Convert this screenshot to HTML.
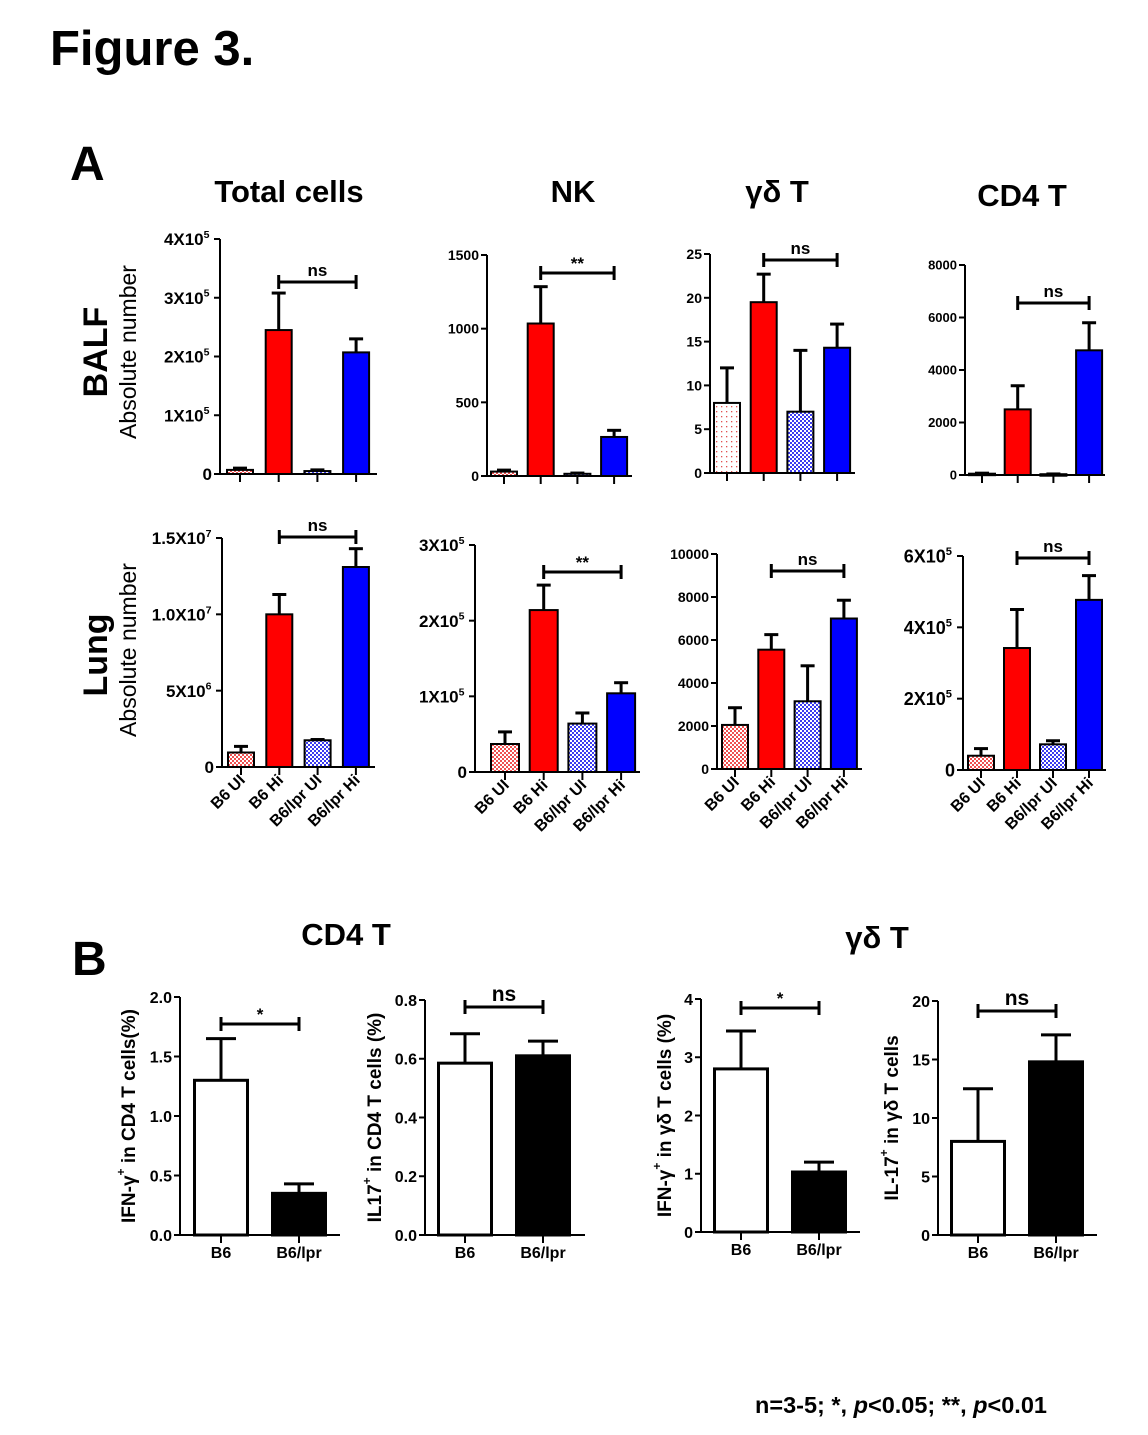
<!DOCTYPE html>
<html><head><meta charset="utf-8"><style>
html,body{margin:0;padding:0;background:#fff;}
svg{display:block;font-family:"Liberation Sans",Arial,sans-serif;}
</style></head><body>
<svg id="fig" width="1148" height="1435" viewBox="0 0 1148 1435" xmlns="http://www.w3.org/2000/svg">
<defs>
<pattern id="pRed" width="4" height="4" patternUnits="userSpaceOnUse"><rect width="4" height="4" fill="#fff"/><rect width="2" height="2" fill="#f05050"/><rect x="2" y="2" width="2" height="2" fill="#f05050"/></pattern>
<pattern id="pBlue" width="4" height="4" patternUnits="userSpaceOnUse"><rect width="4" height="4" fill="#fff"/><rect width="2" height="2" fill="#3b3bf0"/><rect x="2" y="2" width="2" height="2" fill="#3b3bf0"/></pattern>
<pattern id="pDot" width="5" height="5" patternUnits="userSpaceOnUse"><rect width="5" height="5" fill="#fff"/><rect x="1" y="1" width="1.3" height="1.3" fill="#e05050"/></pattern>
</defs>
<g font-weight="bold" fill="#000">
<text x="50" y="65" font-size="49">Figure 3.</text>
<text x="70" y="180" font-size="48">A</text>
<text x="289" y="202" font-size="31" text-anchor="middle">Total cells</text>
<text x="573" y="202" font-size="31" text-anchor="middle">NK</text>
<text x="777" y="202" font-size="31" text-anchor="middle">γδ T</text>
<text x="1022" y="206" font-size="31" text-anchor="middle">CD4 T</text>
<text transform="translate(98,352) rotate(-90)" font-size="34" text-anchor="middle" dominant-baseline="middle">BALF</text>
<text transform="translate(98,655) rotate(-90)" font-size="34" text-anchor="middle" dominant-baseline="middle">Lung</text>
<text x="72" y="975" font-size="48">B</text>
<text x="346" y="945" font-size="31" text-anchor="middle">CD4 T</text>
<text x="877" y="948" font-size="31" text-anchor="middle">γδ T</text>
<text x="755" y="1413" font-size="23.5">n=3-5; *, <tspan font-style="italic">p</tspan>&lt;0.05; **, <tspan font-style="italic">p</tspan>&lt;0.01</text>
</g>
<g font-weight="normal" fill="#000">
<text transform="translate(130,352) rotate(-90)" font-size="23" text-anchor="middle" dominant-baseline="middle">Absolute number</text>
<text transform="translate(130,650) rotate(-90)" font-size="23" text-anchor="middle" dominant-baseline="middle">Absolute number</text>
</g>
<g id="charts"></g>
</svg>
<script>
// ---- data ----
const catsA = ["B6 UI","B6 Hi","B6/lpr UI","B6/lpr Hi"];
const catsB = ["B6","B6/lpr"];
const totalBalfVals = [7000,245000,5000,207000];
const totalBalfErr  = [10000,308000,7000,230000];
const nkBalfVals = [30,1035,15,265];
const nkBalfErr  = [40,1285,20,310];
const gdBalfVals = [8,19.5,7,14.3];
const gdBalfErr  = [12,22.7,14,17];
const cd4BalfVals = [50,2500,30,4750];
const cd4BalfErr  = [70,3400,40,5800];
const totalLungVals = [950000,10000000,1750000,13100000];
const totalLungErr  = [1350000,11300000,1800000,14300000];
const nkLungVals = [37000,214000,64000,104000];
const nkLungErr  = [53000,247000,78000,118000];
const gdLungVals = [2050,5550,3150,7000];
const gdLungErr  = [2850,6250,4800,7850];
const cd4LungVals = [40000,342000,72000,477000];
const cd4LungErr  = [60000,450000,82000,545000];
const ifnCd4Vals = [1.3,0.35];
const ifnCd4Err  = [1.65,0.43];
const il17Cd4Vals = [0.585,0.61];
const il17Cd4Err  = [0.685,0.66];
const ifnGdVals = [2.8,1.03];
const ifnGdErr  = [3.45,1.2];
const il17GdVals = [8.0,14.8];
const il17GdErr  = [12.5,17.1];
const ticksTotalBalf = [0,100000,200000,300000,400000];
const tickLabelsTotalBalf = ["0","1X10^5","2X10^5","3X10^5","4X10^5"];
const ticksNkBalf = [0,500,1000,1500];
const tickLabelsNkBalf = ["0","500","1000","1500"];
const ticksGdBalf = [0,5,10,15,20,25];
const tickLabelsGdBalf = ["0","5","10","15","20","25"];
const ticksCd4Balf = [0,2000,4000,6000,8000];
const tickLabelsCd4Balf = ["0","2000","4000","6000","8000"];
const ticksTotalLung = [0,5000000,10000000,15000000];
const tickLabelsTotalLung = ["0","5X10^6","1.0X10^7","1.5X10^7"];
const ticksNkLung = [0,100000,200000,300000];
const tickLabelsNkLung = ["0","1X10^5","2X10^5","3X10^5"];
const ticksGdLung = [0,2000,4000,6000,8000,10000];
const tickLabelsGdLung = ["0","2000","4000","6000","8000","10000"];
const ticksCd4Lung = [0,200000,400000,600000];
const tickLabelsCd4Lung = ["0","2X10^5","4X10^5","6X10^5"];
const ticksB1 = [0,0.5,1.0,1.5,2.0];
const tickLabelsB1 = ["0.0","0.5","1.0","1.5","2.0"];
const ticksB2 = [0,0.2,0.4,0.6,0.8];
const tickLabelsB2 = ["0.0","0.2","0.4","0.6","0.8"];
const ticksB3 = [0,1,2,3,4];
const tickLabelsB3 = ["0","1","2","3","4"];
const ticksB4 = [0,5,10,15,20];
const tickLabelsB4 = ["0","5","10","15","20"];

const NS="http://www.w3.org/2000/svg";
const root=document.getElementById('charts');
function mk(tag,attrs,parent){const e=document.createElementNS(NS,tag);for(const k in attrs)e.setAttribute(k,attrs[k]);(parent||root).appendChild(e);return e;}
const fillsA=["url(#pRed)","#ff0000","url(#pBlue)","#0000ff"];
const fillsB=["#fff","#000"];

function panel(o){
  const g=mk('g',{});
  
  
  const ymax=o.ticks[o.ticks.length-1];
  const y=v=>o.y0-(v/ymax)*(o.y0-o.ytop);
  const x=i=>o.c0+i*o.step;
  o.vals.forEach((v,i)=>{
    const cx=x(i), top=y(v), et=y(o.err[i]);
    const el=mk('line',{x1:cx,x2:cx,y1:top,y2:et,stroke:'#000','stroke-width':o.ew},g);
    
    
    const cap=mk('line',{x1:cx-o.cap,x2:cx+o.cap,y1:et,y2:et,stroke:'#000','stroke-width':o.ew},g);
    
    
    const r=mk('rect',{x:cx-o.bw/2,y:top,width:o.bw,height:Math.max(o.y0-top,1.5),fill:o.fills[i],stroke:'#000','stroke-width':o.sw},g);
    
    
  });
  const ya=mk('line',{x1:o.ax,x2:o.ax,y1:o.ytop,y2:o.y0+1,stroke:'#000','stroke-width':2},g);
  
  
  const xa=mk('line',{x1:o.ax-1,x2:o.xend,y1:o.y0,y2:o.y0,stroke:'#000','stroke-width':2},g);
  
  
  o.ticks.forEach((t,i)=>{
    const ty=y(t);
    mk('line',{x1:o.ax-6,x2:o.ax,y1:ty,y2:ty,stroke:'#000','stroke-width':2},g);
    const lab=o.labels[i];
    const tx=mk('text',{x:o.ax-8,y:ty+o.fs*0.36,'font-size':o.fs,'font-weight':'bold','text-anchor':'end'},g);
    
    
    if(lab.includes('^')){
      const [a,b]=lab.split('^');
      tx.setAttribute('x',o.ax-2-o.fs*0.5);
      tx.appendChild(document.createTextNode(a));
      const s=mk('tspan',{'font-size':o.fs*0.62,dy:-o.fs*0.42},tx);s.textContent=b;
    } else tx.textContent=lab;
  });
  o.vals.forEach((v,i)=>{mk('line',{x1:x(i),x2:x(i),y1:o.y0,y2:o.y0+8,stroke:'#000','stroke-width':2},g);});
  if(o.xl==='rot'){
    o.cats.forEach((c,i)=>{
      const t=mk('text',{transform:`translate(${x(i)+5},${o.y0+14}) rotate(-45)`,'font-size':16,'font-weight':'bold','text-anchor':'end'},g);
      
      
      t.textContent=c;
    });
  } else if(o.xl==='flat'){
    o.cats.forEach((c,i)=>{
      const t=mk('text',{x:x(i),y:o.y0+23,'font-size':16,'font-weight':'bold','text-anchor':'middle'},g);
      
      
      t.textContent=c;
    });
  }
  if(o.sig){
    const [i1,i2,by,txt]=o.sig;
    const b=mk('path',{d:`M${x(i1)} ${by-7}V${by+7}M${x(i1)} ${by}H${x(i2)}M${x(i2)} ${by-7}V${by+7}`,stroke:'#000','stroke-width':3,fill:'none'},g);
    
    
    const st=mk('text',{x:(x(i1)+x(i2))/2,y:by-(txt.startsWith('*')?4:6),'font-size':o.sigfs||17,'font-weight':'bold','text-anchor':'middle'},g);
    
    
    st.textContent=txt;
  }
  if(o.ytitle){
    const t=mk('text',{transform:`translate(${o.ytx},${(o.ytop+o.y0)/2}) rotate(-90)`,'font-size':19,'font-weight':'bold','text-anchor':'middle','dominant-baseline':'middle'},g);
    
    
    t.innerHTML=o.ytitle;
  }
}
const A={cats:catsA,fills:fillsA,bw:26,ew:3,cap:7,sw:2};
panel({...A,name:'chart-total-balf',vals:totalBalfVals,err:totalBalfErr,ticks:ticksTotalBalf,labels:tickLabelsTotalBalf,ax:220,y0:474,ytop:239,c0:240,step:38.7,xend:377,fs:17,sig:[1,3,282,'ns']});
panel({...A,name:'chart-nk-balf',vals:nkBalfVals,err:nkBalfErr,ticks:ticksNkBalf,labels:tickLabelsNkBalf,ax:487,y0:476,ytop:255,c0:504,step:36.7,xend:632,fs:14,sig:[1,3,273,'**']});
panel({...A,name:'chart-gd-balf',vals:gdBalfVals,err:gdBalfErr,ticks:ticksGdBalf,labels:tickLabelsGdBalf,ax:710,y0:473,ytop:254,c0:727,step:36.7,xend:855,fs:14,sig:[1,3,260,'ns'],fills:["url(#pDot)","#ff0000","url(#pBlue)","#0000ff"]});
panel({...A,name:'chart-cd4-balf',vals:cd4BalfVals,err:cd4BalfErr,ticks:ticksCd4Balf,labels:tickLabelsCd4Balf,ax:965,y0:475,ytop:265,c0:982,step:35.7,xend:1105,fs:13,sig:[1,3,303,'ns']});
panel({...A,name:'chart-total-lung',vals:totalLungVals,err:totalLungErr,ticks:ticksTotalLung,labels:tickLabelsTotalLung,ax:222,y0:767,ytop:538,c0:241,step:38.3,xend:375,fs:17,xl:'rot',sig:[1,3,537,'ns']});
panel({...A,name:'chart-nk-lung',vals:nkLungVals,err:nkLungErr,ticks:ticksNkLung,labels:tickLabelsNkLung,ax:475,y0:772,ytop:545,c0:505,step:38.7,bw:28,xend:640,fs:17,xl:'rot',sig:[1,3,572,'**']});
panel({...A,name:'chart-gd-lung',vals:gdLungVals,err:gdLungErr,ticks:ticksGdLung,labels:tickLabelsGdLung,ax:717,y0:769,ytop:554,c0:735,step:36.3,xend:862,fs:14,xl:'rot',sig:[1,3,571,'ns']});
panel({...A,name:'chart-cd4-lung',vals:cd4LungVals,err:cd4LungErr,ticks:ticksCd4Lung,labels:tickLabelsCd4Lung,ax:963,y0:770,ytop:556,c0:981,step:36,xend:1106,fs:18,xl:'rot',sig:[1,3,558,'ns']});
const B={cats:catsB,fills:fillsB,bw:53,ew:3,cap:15,sw:3,xl:'flat',fs:16,step:78};
panel({...B,name:'chart-ifn-cd4',vals:ifnCd4Vals,err:ifnCd4Err,ticks:ticksB1,labels:tickLabelsB1,ax:180,y0:1235,ytop:997,c0:221,xend:340,sig:[0,1,1024,'*'],ytx:130,ytitle:'IFN-γ<tspan font-size="12" dy="-8">+</tspan><tspan dy="8"> in CD4 T cells(%)</tspan>'});
panel({...B,name:'chart-il17-cd4',vals:il17Cd4Vals,err:il17Cd4Err,ticks:ticksB2,labels:tickLabelsB2,ax:425,y0:1235,ytop:1000,c0:465,xend:585,sig:[0,1,1007,'ns'],sigfs:21,ytx:376,ytitle:'IL17<tspan font-size="12" dy="-8">+</tspan><tspan dy="8"> in CD4 T cells (%)</tspan>'});
panel({...B,name:'chart-ifn-gd',vals:ifnGdVals,err:ifnGdErr,ticks:ticksB3,labels:tickLabelsB3,ax:701,y0:1232,ytop:999,c0:741,xend:860,sig:[0,1,1008,'*'],ytx:666,ytitle:'IFN-γ<tspan font-size="12" dy="-8">+</tspan><tspan dy="8"> in γδ T cells (%)</tspan>'});
panel({...B,name:'chart-il17-gd',vals:il17GdVals,err:il17GdErr,ticks:ticksB4,labels:tickLabelsB4,ax:938,y0:1235,ytop:1001,c0:978,xend:1097,sig:[0,1,1011,'ns'],sigfs:21,ytx:893,ytitle:'IL-17<tspan font-size="12" dy="-8">+</tspan><tspan dy="8"> in γδ T cells</tspan>'});
</script>
</body></html>
